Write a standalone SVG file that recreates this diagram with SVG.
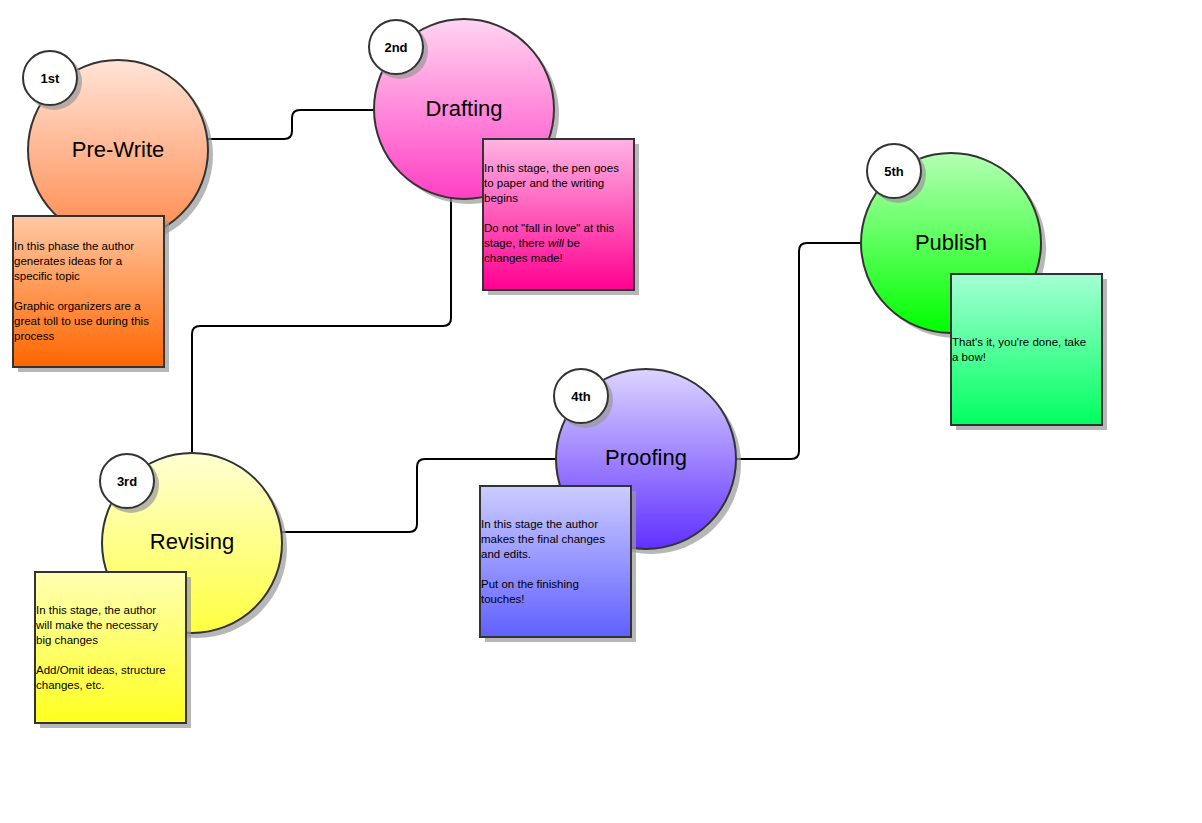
<svg xmlns="http://www.w3.org/2000/svg" width="1202" height="823" viewBox="0 0 1202 823">
<style>
text{font-family:"Liberation Sans",Arial,sans-serif;fill:#000}
.big{stroke:#333;stroke-width:2}
.sh{fill:#999;opacity:.7}
.note{stroke:#333;stroke-width:2}
.ttl{font-size:22px;text-anchor:middle}
.bdg{fill:#fff;stroke:#333;stroke-width:2}
.bt{font-size:13px;font-weight:bold;text-anchor:middle}
.nt{font-size:11.5px}
.con{fill:none;stroke:#000;stroke-width:2}
</style>
<defs>
<linearGradient id="c1" x1="0" y1="0" x2="0" y2="1"><stop offset="0" stop-color="#ffe4d8"/><stop offset="1" stop-color="#ff8a4c"/></linearGradient>
<linearGradient id="n1" x1="0" y1="0" x2="0" y2="1"><stop offset="0" stop-color="#ffc8a4"/><stop offset="1" stop-color="#ff6600"/></linearGradient>
<linearGradient id="c2" x1="0" y1="0" x2="0" y2="1"><stop offset="0" stop-color="#ffd4f2"/><stop offset="1" stop-color="#ff40c4"/></linearGradient>
<linearGradient id="n2" x1="0" y1="0" x2="0" y2="1"><stop offset="0" stop-color="#ffb4e4"/><stop offset="1" stop-color="#ff0090"/></linearGradient>
<linearGradient id="c3" x1="0" y1="0" x2="0" y2="1"><stop offset="0" stop-color="#ffffd4"/><stop offset="1" stop-color="#ffff40"/></linearGradient>
<linearGradient id="n3" x1="0" y1="0" x2="0" y2="1"><stop offset="0" stop-color="#ffffb4"/><stop offset="1" stop-color="#ffff20"/></linearGradient>
<linearGradient id="c4" x1="0" y1="0" x2="0" y2="1"><stop offset="0" stop-color="#dcd4ff"/><stop offset="1" stop-color="#6030ff"/></linearGradient>
<linearGradient id="n4" x1="0" y1="0" x2="0" y2="1"><stop offset="0" stop-color="#ccccff"/><stop offset="1" stop-color="#6060ff"/></linearGradient>
<linearGradient id="c5" x1="0" y1="0" x2="0" y2="1"><stop offset="0" stop-color="#b4ffb4"/><stop offset="1" stop-color="#00ff00"/></linearGradient>
<linearGradient id="n5" x1="0" y1="0" x2="0" y2="1"><stop offset="0" stop-color="#a4ffd4"/><stop offset="1" stop-color="#00ff60"/></linearGradient>
</defs>
<rect width="1202" height="823" fill="#fff"/>
<g id="connectors">
<path class="con" d="M208 139 H284 Q292 139 292 131 V118 Q292 110 300 110 H374"/>
<path class="con" d="M451 198 V318 Q451 326 443 326 H200 Q192 326 192 334 V453"/>
<path class="con" d="M278 532 H409 Q417 532 417 524 V467 Q417 459 425 459 H556"/>
<path class="con" d="M736 459 H791 Q799 459 799 451 V251 Q799 243 807 243 H861"/>
</g>
<g id="prewrite">
<circle class="sh" cx="123" cy="155" r="90"/>
<circle class="big" cx="118" cy="150" r="90" fill="url(#c1)"/>
<text class="ttl" x="118" y="157">Pre-Write</text>
<circle class="sh" cx="54" cy="82" r="28"/>
<circle class="bdg" cx="50" cy="78" r="27"/>
<text class="bt" x="50" y="83">1st</text>
<rect class="sh" x="18" y="221" width="151" height="151"/>
<rect class="note" x="13" y="216" width="151" height="151" fill="url(#n1)"/>
<text class="nt" x="14" y="250">In this phase the author<tspan x="14" dy="15">generates ideas for a</tspan><tspan x="14" dy="15">specific topic</tspan><tspan x="14" dy="30">Graphic organizers are a</tspan><tspan x="14" dy="15">great toll to use during this</tspan><tspan x="14" dy="15">process</tspan></text>
</g>
<g id="drafting">
<circle class="sh" cx="469" cy="114" r="90"/>
<circle class="big" cx="464" cy="109" r="90" fill="url(#c2)"/>
<text class="ttl" x="464" y="116">Drafting</text>
<circle class="sh" cx="400" cy="51" r="28"/>
<circle class="bdg" cx="396" cy="47" r="27"/>
<text class="bt" x="396" y="52">2nd</text>
<rect class="sh" x="488" y="144" width="151" height="151"/>
<rect class="note" x="483" y="139" width="151" height="151" fill="url(#n2)"/>
<text class="nt" x="484" y="172">In this stage, the pen goes<tspan x="484" dy="15">to paper and the writing</tspan><tspan x="484" dy="15">begins</tspan><tspan x="484" dy="30">Do not "fall in love" at this</tspan><tspan x="484" dy="15">stage, there <tspan font-style="italic">will</tspan> be</tspan><tspan x="484" dy="15">changes made!</tspan></text>
</g>
<g id="revising">
<circle class="sh" cx="197" cy="548" r="90"/>
<circle class="big" cx="192" cy="543" r="90" fill="url(#c3)"/>
<text class="ttl" x="192" y="549">Revising</text>
<circle class="sh" cx="131" cy="485" r="28"/>
<circle class="bdg" cx="127" cy="481" r="27"/>
<text class="bt" x="127" y="486">3rd</text>
<rect class="sh" x="40" y="577" width="151" height="151"/>
<rect class="note" x="35" y="572" width="151" height="151" fill="url(#n3)"/>
<text class="nt" x="36" y="614">In this stage, the author<tspan x="36" dy="15">will make the necessary</tspan><tspan x="36" dy="15">big changes</tspan><tspan x="36" dy="30">Add/Omit ideas, structure</tspan><tspan x="36" dy="15">changes, etc.</tspan></text>
</g>
<g id="proofing">
<circle class="sh" cx="651" cy="464" r="90"/>
<circle class="big" cx="646" cy="459" r="90" fill="url(#c4)"/>
<text class="ttl" x="646" y="465">Proofing</text>
<circle class="sh" cx="585" cy="400" r="28"/>
<circle class="bdg" cx="581" cy="396" r="27"/>
<text class="bt" x="581" y="401">4th</text>
<rect class="sh" x="485" y="491" width="151" height="151"/>
<rect class="note" x="480" y="486" width="151" height="151" fill="url(#n4)"/>
<text class="nt" x="481" y="528">In this stage the author<tspan x="481" dy="15">makes the final changes</tspan><tspan x="481" dy="15">and edits.</tspan><tspan x="481" dy="30">Put on the finishing</tspan><tspan x="481" dy="15">touches!</tspan></text>
</g>
<g id="publish">
<circle class="sh" cx="956" cy="248" r="90"/>
<circle class="big" cx="951" cy="243" r="90" fill="url(#c5)"/>
<text class="ttl" x="951" y="250">Publish</text>
<circle class="sh" cx="898" cy="175" r="28"/>
<circle class="bdg" cx="894" cy="171" r="27"/>
<text class="bt" x="894" y="176">5th</text>
<rect class="sh" x="956" y="279" width="151" height="151"/>
<rect class="note" x="951" y="274" width="151" height="151" fill="url(#n5)"/>
<text class="nt" x="952" y="346">That's it, you're done, take<tspan x="952" dy="15">a bow!</tspan></text>
</g>
</svg>
